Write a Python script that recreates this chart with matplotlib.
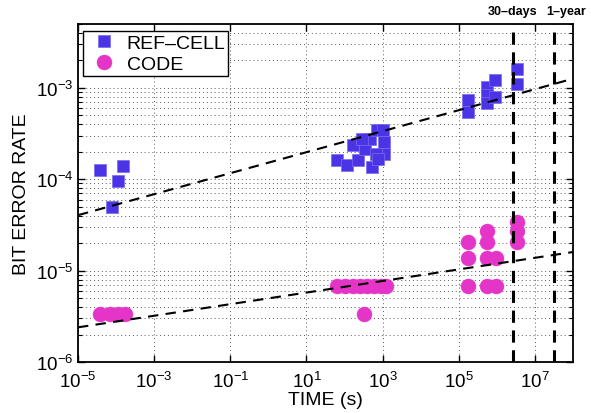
import numpy as np
import matplotlib
matplotlib.use("Agg")
import matplotlib.pyplot as plt
import matplotlib.transforms as mtransforms
from matplotlib.ticker import LogLocator, NullLocator

plt.rcParams['font.family'] = ['Liberation Sans', 'DejaVu Sans']
plt.rcParams['mathtext.fontset'] = 'custom'
plt.rcParams['mathtext.rm'] = 'Liberation Sans'
plt.rcParams['mathtext.it'] = 'Liberation Sans:italic'
plt.rcParams['mathtext.bf'] = 'Liberation Sans:bold'

# REF-CELL measurements (time in s, bit error rate)
ref_t = [3.8e-5, 1.53e-4, 1.12e-4, 7.9e-5,
         65, 117, 170, 224, 525, 355, 479, 724, 1000, 1070, 1070, 661, 295, 776,
         1.76e5, 1.76e5, 5.46e5, 5.46e5, 5.46e5, 9.0e5, 9.0e5, 3.43e6, 3.43e6]
ref_ber = [1.26e-4, 1.4e-4, 9.5e-5, 5.0e-5,
           1.63e-4, 1.43e-4, 2.39e-4, 1.61e-4, 1.35e-4, 2.13e-4, 2.73e-4, 3.46e-4,
           3.44e-4, 2.54e-4, 1.87e-4, 1.87e-4, 2.73e-4, 1.66e-4,
           7.36e-4, 5.45e-4, 1.02e-3, 8.34e-4, 6.89e-4, 1.23e-3, 8.0e-4, 1.62e-3, 1.09e-3]

# CODE measurements
code_t = [3.8e-5, 6.95e-5, 1.15e-4, 1.73e-4,
          65, 106, 162, 248, 380, 580, 885, 1200, 320,
          1.76e5, 1.76e5, 1.76e5, 5.46e5, 5.46e5, 5.46e5, 5.46e5,
          9.3e5, 9.3e5, 3.43e6, 3.43e6, 3.43e6]
code_ber = [3.4e-6, 3.4e-6, 3.4e-6, 3.4e-6,
            6.8e-6, 6.8e-6, 6.8e-6, 6.8e-6, 6.8e-6, 6.8e-6, 6.8e-6, 6.8e-6, 3.4e-6,
            2.04e-5, 1.36e-5, 6.8e-6, 2.72e-5, 2.04e-5, 1.36e-5, 6.8e-6,
            1.36e-5, 6.8e-6, 3.4e-5, 2.72e-5, 2.04e-5]

# fitted trend lines (end points)
fit_t = [1e-5, 1e8]
ref_fit = [4.05e-5, 1.26e-3]
code_fit = [2.4e-6, 1.6e-5]

# reference times
mark_t = [2.592e6, 3.1536e7]
mark_labels = ['30\u2013days', '1\u2013year']

blue = '#4a34e6'
magenta = '#e535c9'

fig = plt.figure(figsize=(5.91, 4.14), dpi=100)
ax = fig.add_axes([0.132, 0.123, 0.8375, 0.8166])

ax.plot(ref_t, ref_ber, 's', color=blue, markersize=8.6, markeredgecolor='#7a6cf0',
        markeredgewidth=0.5, label='REF\u2013CELL', zorder=3)
ax.plot(code_t, code_ber, 'o', color=magenta, markersize=10.8, markeredgecolor=magenta,
        markeredgewidth=0.3, label='CODE', zorder=3)

ax.plot(fit_t, ref_fit, color='black', lw=1.5, dashes=(5, 3.5), zorder=4)
ax.plot(fit_t, code_fit, color='black', lw=1.5, dashes=(5, 3.5), zorder=4)

trans = mtransforms.blended_transform_factory(ax.transData, ax.transAxes)
# label shifts in points (the 1-year label sits a little right of its line)
shifts = [0, 9]
for t, lab, dx in zip(mark_t, mark_labels, shifts):
    ax.axvline(t, color='black', lw=2.2, dashes=(4, 2.5), zorder=4)
    off = trans + mtransforms.ScaledTranslation(dx / 72, 0, fig.dpi_scale_trans)
    ax.text(t, 1.02, lab, transform=off, ha='center', va='bottom',
            fontsize=9, fontweight='bold')

ax.set_xscale('log')
ax.set_yscale('log')
ax.set_xlim(1e-5, 1e8)
ax.set_ylim(1e-6, 5e-3)

ax.set_xticks([1e-5, 1e-3, 1e-1, 1e1, 1e3, 1e5, 1e7])
ax.xaxis.set_minor_locator(NullLocator())
ax.yaxis.set_major_locator(LogLocator(base=10, numticks=10))
ax.yaxis.set_minor_locator(LogLocator(base=10, subs=np.arange(2, 10), numticks=10))

ax.grid(True, which='major', color='0.35', linestyle=(0, (1, 3)), lw=0.7)
ax.grid(True, which='minor', axis='y', color='0.35', linestyle=(0, (1, 3)), lw=0.7)

ax.tick_params(which='both', direction='in', top=True, right=True, labelsize=13.5)
ax.tick_params(which='major', length=5, width=1)
ax.tick_params(axis='x', which='major', pad=6)
ax.tick_params(which='minor', length=3, width=0.8)
for s in ax.spines.values():
    s.set_linewidth(1.3)

ax.set_xlabel('TIME (s)', fontsize=14, labelpad=0)
ax.set_ylabel('BIT ERROR RATE', fontsize=14, labelpad=4)

leg = ax.legend(loc='upper left', bbox_to_anchor=(0.0101, 0.979), borderaxespad=0,
                fancybox=False, edgecolor='black', framealpha=1, fontsize=14,
                handletextpad=0.2, borderpad=0.15, labelspacing=0.18, handlelength=1.9)
leg.get_frame().set_linewidth(1.0)

fig.savefig('out.png', dpi=100)
